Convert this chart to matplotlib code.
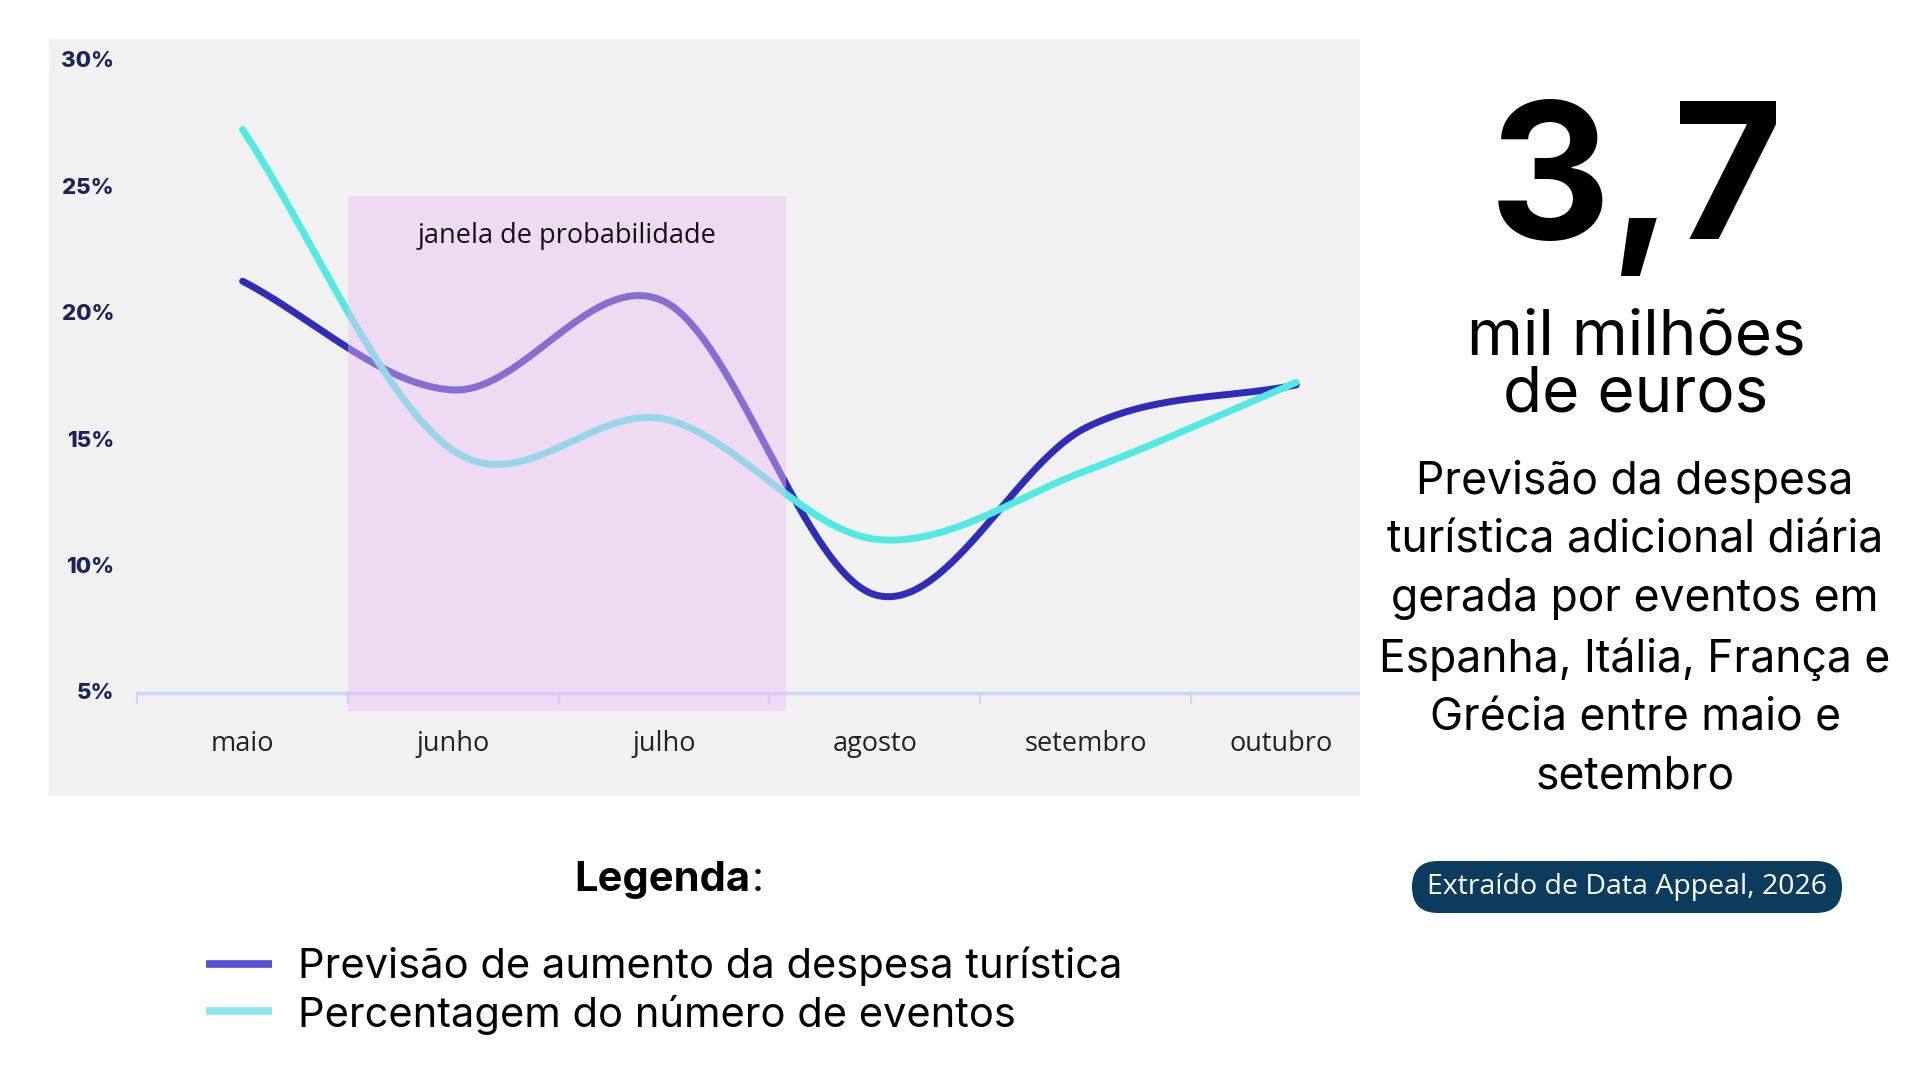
import numpy as np
import matplotlib
matplotlib.use("Agg")
import matplotlib.pyplot as plt
from matplotlib.patches import Rectangle, FancyBboxPatch

# data (percent)
months = ["maio", "junho", "julho", "agosto", "setembro", "outubro"]
despesa = [21.3, 17.0, 20.5, 8.9, 15.5, 17.2]
eventos = [27.3, 14.6, 15.85, 11.1, 13.8, 17.3]
y_ticks = [5, 10, 15, 20, 25, 30]
window_start, window_end = 0.5, 2.58   # probability window, in month index units

DARK = "#2F2DB8"
CYAN = "#52EAE0"
NAVY = "#1B2459"
PANEL = "#F1F1F1"
BADGE = "#0B3C5D"


def smooth(x, y, xs):
    # Catmull-Rom style cubic through the monthly points (drawing only)
    x = np.asarray(x, float)
    y = np.asarray(y, float)
    n = len(x)
    m = np.zeros(n)
    m[1:-1] = (y[2:] - y[:-2]) / (x[2:] - x[:-2])
    m[0] = (y[1] - y[0]) / (x[1] - x[0])
    m[-1] = (y[-1] - y[-2]) / (x[-1] - x[-2])
    idx = np.clip(np.searchsorted(x, xs) - 1, 0, n - 2)
    h = x[idx + 1] - x[idx]
    t = (xs - x[idx]) / h
    h00 = 2 * t ** 3 - 3 * t ** 2 + 1
    h10 = t ** 3 - 2 * t ** 2 + t
    h01 = -2 * t ** 3 + 3 * t ** 2
    h11 = t ** 3 - t ** 2
    return h00 * y[idx] + h10 * h * m[idx] + h01 * y[idx + 1] + h11 * h * m[idx + 1]


fig = plt.figure(figsize=(19.2, 10.8), dpi=100)

# overlay in pixel coordinates for the text blocks
over = fig.add_axes([0, 0, 1, 1])
over.set_xlim(0, 1920)
over.set_ylim(1080, 0)
over.axis("off")

# chart panel
ax = fig.add_axes([0.0255, 0.2627, 0.6828, 0.7010])
ax.set_facecolor(PANEL)
for s in ax.spines.values():
    s.set_visible(False)
ax.set_xticks([])
ax.set_yticks([])
ax.set_xlim(-0.919, 5.302)
ax.set_ylim(0.93, 30.87)

xi = np.arange(len(months))
xs = np.linspace(0, len(months) - 1, 500)
ax.plot(xs, smooth(xi, despesa, xs), color=DARK, lw=5, solid_capstyle="round", zorder=3)
ax.plot(xs, smooth(xi, eventos, xs), color=CYAN, lw=5, solid_capstyle="round", zorder=3)

# baseline and category ticks
ax.plot([-0.5, 5.302], [5, 5], color="#CBD6F7", lw=2.5, zorder=2, solid_capstyle="butt")
for t in np.arange(-0.5, 5, 1.0):
    ax.plot([t, t], [5, 4.6], color="#CBD6F7", lw=1.5, zorder=2)

# probability window on top of the lines
ax.add_patch(Rectangle((window_start, 4.32), window_end - window_start, 24.67 - 4.32,
                       facecolor="#ECBEF3", alpha=0.45, edgecolor="none", zorder=4))
ax.text((window_start + window_end) / 2, 23.1, "janela de probabilidade",
        ha="center", va="center", fontsize=19.5, family="Open Sans", color="#111111", zorder=5)

for v in y_ticks:
    ax.text(-0.61, v, f"{v}%", ha="right", va="center", fontsize=16,
            fontweight="heavy", family="Inter", color=NAVY)
for i, m in enumerate(months):
    ax.text(min(i, 4.93), 3.0, m, ha="center", va="center", fontsize=19.5,
            family="Open Sans", color="#222222")

# legend block
over.text(750, 880, "Legenda", ha="right", va="center", fontsize=30, fontweight="bold",
          family="Inter", color="black")
over.text(752, 880, ":", ha="left", va="center", fontsize=30, family="Inter", color="black")
over.plot([206, 272], [964, 964], color="#5B4FD8", lw=5.5, solid_capstyle="butt")
over.plot([206, 272], [1011, 1011], color="#8CE6EC", lw=5.5, solid_capstyle="butt")
over.text(298, 966, "Previsão de aumento da despesa turística", ha="left", va="center",
          fontsize=30, family="Inter", color="black")
over.text(298, 1015, "Percentagem do número de eventos", ha="left", va="center",
          fontsize=30, family="Inter", color="black")

# right-hand summary
over.text(1636, 239, "3,7", ha="center", va="baseline", fontsize=136, fontweight="bold",
          family="Inter", color="black")
over.text(1636, 411, "mil milhões\nde euros", ha="center", va="baseline",
          multialignment="center", linespacing=0.95, fontsize=46,
          family="Inter", color="black")

para = ["Previsão da despesa", "turística adicional diária", "gerada por eventos em",
        "Espanha, Itália, França e", "Grécia entre maio e", "setembro"]
over.text(1635, 460, "\n".join(para), ha="center", va="top", multialignment="center",
          linespacing=1.5, fontsize=32, family="Inter", color="black")

over.add_patch(FancyBboxPatch((1412, 861), 430, 52, boxstyle="round,pad=0,rounding_size=26",
                              facecolor=BADGE, edgecolor="none"))
over.text(1627, 887, "Extraído de Data Appeal, 2026", ha="center", va="center",
          fontsize=20.5, family="Open Sans", color="white")

fig.savefig("out.png", dpi=100, facecolor="white")
